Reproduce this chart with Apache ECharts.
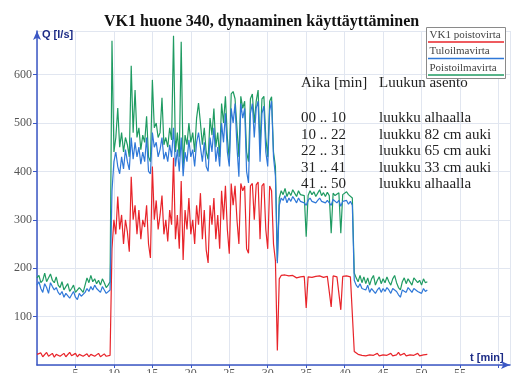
<!DOCTYPE html>
<html><head><meta charset="utf-8">
<script src="https://cdn.jsdelivr.net/npm/echarts@6/dist/echarts.min.js"></script>
<style>html,body{margin:0;padding:0;background:#fff}#c{width:511px;height:373px}</style>
</head><body><div id="c"></div>
<script>
// time step between samples (minutes), first sample at t = 0
const T_STEP = 0.25;
const seriesNames = ['VK1 poistovirta', 'Tuloilmavirta', 'Poistoilmavirta'];
const xTickLabels = [5, 10, 15, 20, 25, 30, 35, 40, 45, 50, 55];
const yTickLabels = [100, 200, 300, 400, 500, 600];

// VK1 poistovirta (red)
const redBefore = [22,18,25,17,21,26,18,20,24,16, 22,25,18,19,24,17,21,26,19,18, 24,17,22,25,18,20,23,17,22,25, 18,19,24,17,21,23,18,19,20];
const redOpen = [240,300,270,348,280,310,250,300,275,234, 389,300,330,270,320,260,300,285,330,250, 221,410,300,340,280,310,350,270,300,255, 320,290,428,260,310,240,380,217,320,280, 345,270,300,250,330,290,355,260,320,238, 211,330,290,345,260,310,240,360,300,370, 280,230,375,330,370,300,250,375,360,370, 240,231,370,375,300,372,378,260,370,375, 280,240,370,360,250,215];
const redMid = [30,178,185,183,186,182,184,181,185,183, 180,184,182,185,183,118,182,184,181,185, 183,182,184,183,181,184,183,182,120,184, 183,182,184,114,183,182,184,183,182,181];
const redAfter = [28,26,22,25,20,24,19,23,21,25, 20,22,24,19,23,21,25,20,22,24, 19,23,21,26,20,22,24,19,23,21, 25,20,22,24,19,23,21,24,22];

// Tuloilmavirta (blue)
const blueBefore = [165,172,158,150,168,160,148,170,162,155, 160,150,145,152,140,148,150,138,145,152, 140,135,148,142,138,150,158,152,162,155, 165,158,160,150,162,155,148,150,155];
const blueOpen = [360,420,440,410,395,430,405,445,420,403, 470,425,460,430,450,415,440,420,470,400, 395,480,450,460,430,445,470,425,440,420, 455,430,490,410,445,400,470,390,440,420, 465,430,445,410,460,480,450,420,460,410, 400,470,440,490,420,450,410,500,460,520, 440,410,530,500,540,450,389,540,510,530, 400,376,520,540,470,530,545,420,520,535, 440,410,525,545,430,390];
const blueMid = [210,330,345,340,350,335,345,338,348,342, 335,345,338,340,335,330,340,345,338,342, 335,340,345,338,342,335,340,336,330,342, 338,335,340,328,338,335,340,332,338,330];
const blueAfter = [175,165,160,168,158,162,155,165,150,158, 162,148,155,160,150,158,152,160,155,148, 158,162,152,145,140,155,158,150,160,155, 150,158,162,152,155,148,158,152,155];

// Poistoilmavirta (green)
const greenBefore = [180,185,170,175,190,172,168,188,175,170, 182,165,160,172,155,162,168,152,158,165, 150,148,160,155,150,165,180,170,185,172, 178,168,175,165,178,170,160,165,172];
const greenOpen = [670,440,470,531,450,480,440,470,455,430, 618,480,568,470,490,445,475,460,514,430, 420,589,490,500,470,480,552,455,470,450, 490,465,680,440,480,430,668,410,475,455, 500,460,480,440,510,541,500,455,490,440, 425,510,475,530,450,480,430,540,500,555, 470,425,560,565,550,490,430,555,530,545, 440,420,550,560,500,545,568,450,550,555, 470,430,545,554,440,410];
const greenMid = [215,345,360,352,365,348,358,350,362,355, 348,360,352,355,350,265,350,360,352,358, 348,355,362,350,356,348,357,350,272,355, 350,352,356,272,352,350,358,352,355,345];
const greenAfter = [190,180,172,185,170,182,168,180,165,178, 185,165,175,182,168,178,170,182,172,165, 178,185,170,160,155,172,180,168,178,175, 165,180,182,170,175,165,178,170,172];

const legendRows = ['VK1 poistovirta', 'Tuloilmavirta', 'Poistoilmavirta'];
const noteHeader = ['Aika [min]', 'Luukun asento'];
const notePeriods = ['00 .. 10', '10 .. 22', '22 .. 31', '31 .. 41', '41 .. 50'];
const notePositions = ['luukku alhaalla', 'luukku 82 cm auki', 'luukku 65 cm auki', 'luukku 33 cm auki', 'luukku alhaalla'];

const colors = ['#e8242a', '#2f78d8', '#1f9b62'];

function toPairs(vals) { return vals.map((v, i) => [i * T_STEP, v]); }
const redData = toPairs([].concat(redBefore, redOpen, redMid, redAfter));
const blueData = toPairs([].concat(blueBefore, blueOpen, blueMid, blueAfter));
const greenData = toPairs([].concat(greenBefore, greenOpen, greenMid, greenAfter));

const chart = echarts.init(document.getElementById('c'), null, { renderer: 'canvas' });

const serif = 'Liberation Serif';
const graphics = [];
// legend box
graphics.push({ type: 'rect', shape: { x: 426.5, y: 27.5, width: 79, height: 51 }, style: { fill: '#fff', stroke: '#8a8a8a', lineWidth: 1 }, z: 100 });
legendRows.forEach((name, i) => {
  const cy = 35 + i * 16.5;
  graphics.push({ type: 'text', x: 429.5, y: cy, style: { text: name, font: '11px "' + serif + '"', fill: '#444', textVerticalAlign: 'middle' }, z: 101 });
  graphics.push({ type: 'line', shape: { x1: 428, y1: cy + 7, x2: 504, y2: cy + 7 }, style: { stroke: colors[i], lineWidth: 1.3 }, z: 101 });
});
// annotation table
graphics.push({ type: 'text', x: 301, y: 83, style: { text: noteHeader[0], font: '15px "' + serif + '"', fill: '#222', textVerticalAlign: 'middle' }, z: 50 });
graphics.push({ type: 'text', x: 379, y: 83, style: { text: noteHeader[1], font: '15px "' + serif + '"', fill: '#222', textVerticalAlign: 'middle' }, z: 50 });
notePeriods.forEach((p, i) => {
  const cy = 118 + i * 16.6;
  graphics.push({ type: 'text', x: 301, y: cy, style: { text: p, font: '15px "' + serif + '"', fill: '#222', textVerticalAlign: 'middle' }, z: 50 });
  graphics.push({ type: 'text', x: 379, y: cy, style: { text: notePositions[i], font: '15px "' + serif + '"', fill: '#222', textVerticalAlign: 'middle' }, z: 50 });
});

const axisBlue = '#3b57c4';
const gridColor = '#e1e6f0';

chart.setOption({
  animation: false,
  backgroundColor: '#fff',
  title: {
    text: 'VK1 huone 340, dynaaminen käyttäyttäminen',
    left: 99, top: 9,
    textStyle: { fontFamily: serif, fontWeight: 'bold', fontSize: 16, color: '#111' }
  },
  grid: { left: 37, right: 1, top: 31, bottom: 8, containLabel: false, outerBoundsMode: 'none' },
  xAxis: {
    type: 'value', min: 0, max: 61.5, interval: 5,
    name: 't [min]', nameLocation: 'end', nameGap: -40,
    nameTextStyle: { fontFamily: 'Liberation Sans', fontWeight: 'bold', fontSize: 11, color: '#1c2b86', align: 'left', verticalAlign: 'bottom', padding: [0, 0, 2, 0] },
    axisLine: { show: true, symbol: ['none', 'arrow'], symbolSize: [6, 9], lineStyle: { color: axisBlue, width: 1.5 } },
    axisTick: { show: true, length: 3, lineStyle: { color: axisBlue } },
    axisLabel: { margin: 3, fontFamily: serif, fontSize: 12, color: '#555', showMinLabel: false, showMaxLabel: false,
      formatter: v => xTickLabels.indexOf(v) >= 0 ? String(v) : '' },
    splitLine: { show: true, lineStyle: { color: gridColor, width: 1 } }
  },
  yAxis: {
    type: 'value', min: 0, max: 690, interval: 100,
    name: 'Q [l/s]', nameLocation: 'end', nameGap: -9,
    nameTextStyle: { fontFamily: 'Liberation Sans', fontWeight: 'bold', fontSize: 11, color: '#1c2b86', align: 'left', verticalAlign: 'bottom', padding: [0, 0, 0, 5] },
    axisLine: { show: true, symbol: ['none', 'arrow'], symbolSize: [6, 9], lineStyle: { color: axisBlue, width: 1.5 } },
    axisTick: { show: true, length: 4, lineStyle: { color: axisBlue } },
    axisLabel: { margin: 5, fontFamily: serif, fontSize: 12, color: '#555', showMinLabel: false, showMaxLabel: false,
      formatter: v => yTickLabels.indexOf(v) >= 0 ? String(v) : '' },
    splitLine: { show: true, lineStyle: { color: gridColor, width: 1 } }
  },
  series: [
    { name: seriesNames[0], type: 'line', data: redData, showSymbol: false, lineStyle: { color: colors[0], width: 1.2 }, itemStyle: { color: colors[0] }, z: 2 },
    { name: seriesNames[2], type: 'line', data: greenData, showSymbol: false, lineStyle: { color: colors[2], width: 1.2 }, itemStyle: { color: colors[2] }, z: 3 },
    { name: seriesNames[1], type: 'line', data: blueData, showSymbol: false, lineStyle: { color: colors[1], width: 1.2 }, itemStyle: { color: colors[1] }, z: 4 }
  ],
  graphic: graphics
});
</script>
</body></html>
